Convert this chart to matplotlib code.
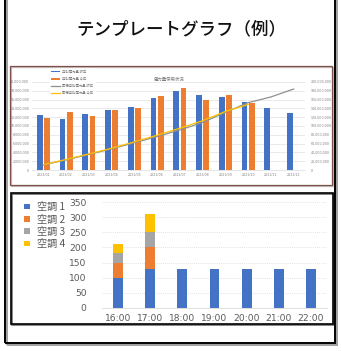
import matplotlib
matplotlib.use("Agg")
import matplotlib.pyplot as plt
from matplotlib.patches import Rectangle
import numpy as np

W, H = 341, 351
JP = ['Noto Sans CJK JP', 'DejaVu Sans']

# monthly electricity chart (top panel), values in millions of kWh
months = ['2021/01', '2021/02', '2021/03', '2021/04', '2021/05', '2021/06',
          '2021/07', '2021/08', '2021/09', '2021/10', '2021/11', '2021/12']
monthly_last = [12.4, 11.7, 12.8, 13.7, 14.4, 16.4, 18.0, 17.1, 16.6, 15.5, 14.0, 13.0]
monthly_this = [11.9, 13.2, 12.3, 13.7, 14.1, 16.8, 18.7, 15.8, 17.0, 15.2]
cumulative_last = [11.5, 23.0, 35.5, 48.0, 62.0, 76.0, 91.0, 108.0, 131.0, 153.0, 166.0, 184.0]
cumulative_this = [12.0, 24.0, 36.5, 49.5, 64.0, 79.0, 95.0, 112.0, 133.0, 149.0]
top_series = ['月別電力量 昨年', '月別電力量 今年', '累積月別電力量 昨年', '累積月別電力量 今年']

# air conditioner load by hour (bottom panel)
hours = ['16:00', '17:00', '18:00', '19:00', '20:00', '21:00', '22:00']
ac_names = ['空調 1', '空調 2', '空調 3', '空調 4']
ac1 = [100, 130, 130, 130, 130, 130, 130]
ac2 = [50, 70, 0, 0, 0, 0, 0]
ac3 = [30, 50, 0, 0, 0, 0, 0]
ac4 = [30, 60, 0, 0, 0, 0, 0]

BLUE, ORANGE, GREY, GOLD = '#4472C4', '#ED7D31', '#A5A5A5', '#FFC000'


def px_box(x0, y0, x1, y1):
    # pixel rectangle (top-left origin) -> figure fraction [l, b, w, h]
    return [x0 / W, 1 - y1 / H, (x1 - x0) / W, (y1 - y0) / H]


def frame(x0, y0, x1, y1, color, lw=1.2, shadow='#9a9a9a', off=1.6):
    l, b, w, h = px_box(x0, y0, x1, y1)
    dx, dy = off / W, off / H
    fig.add_artist(Rectangle((l + dx, b - dy), w, h, transform=fig.transFigure,
                             fill=False, ec=shadow, lw=lw, zorder=0))
    fig.add_artist(Rectangle((l, b), w, h, transform=fig.transFigure,
                             fill=False, ec=color, lw=lw, zorder=1))


fig = plt.figure(figsize=(W / 100, H / 100), dpi=100)
fig.patch.set_facecolor('white')

# outer frame and title
frame(5, -3, 335, 343, 'black', lw=1.4, shadow='#a0a0a0')
fig.text(181 / W, 1 - 29 / H, 'テンプレートグラフ（例）', family=JP,
         fontsize=12.6, weight='medium', ha='center', va='center', color='#111111')

# ---- top panel: monthly usage ----
frame(10, 66, 332, 185, '#7e504a', lw=0.9, shadow='#c8c0c0', off=1.2)
ax1 = fig.add_axes(px_box(32, 82, 305, 170))
x = np.arange(len(months))
ax1.bar(x[:len(monthly_last)] - 0.16, monthly_last, width=0.26, color=BLUE,
        label=top_series[0], zorder=2)
ax1.bar(x[:len(monthly_this)] + 0.16, monthly_this, width=0.26, color=ORANGE,
        label=top_series[1], zorder=2)
ax1.set_ylim(0, 20)
ax1.set_xlim(-0.5, len(months) - 0.5)
ax1.set_yticks(np.arange(0, 21, 2))
ax1.set_yticklabels(['0'] + [f'{v:,}' for v in range(2000000, 20000001, 2000000)])
ax1.set_xticks(x)
ax1.set_xticklabels(months)
ax1.tick_params(labelsize=2.3, length=0, pad=2, colors='#808080')
ax1.grid(axis='y', color='#e2e2e2', lw=0.5)
ax1.set_axisbelow(True)
for s in ax1.spines.values():
    s.set_visible(False)
ax1.spines['bottom'].set_visible(True)
ax1.spines['bottom'].set_color('#d9d9d9')
ax1.spines['bottom'].set_linewidth(0.5)

ax2 = ax1.twinx()
ax2.plot(x[:len(cumulative_last)], cumulative_last, color='#8f8f8f', lw=0.9,
         label=top_series[2], zorder=3)
ax2.plot(x[:len(cumulative_this)], cumulative_this, color=GOLD, lw=0.9,
         label=top_series[3], zorder=3)
ax2.set_ylim(0, 200)
ax2.set_yticks(np.arange(0, 201, 20))
ax2.set_yticklabels(['0'] + [f'{v:,}' for v in range(20000000, 200000001, 20000000)])
ax2.tick_params(labelsize=2.3, length=0, pad=4, colors='#808080')
for s in ax2.spines.values():
    s.set_visible(False)

ax1.set_title('電力量使用状況', family=JP, fontsize=3.2, color='#808080', pad=0)
ax1.title.set_position((0.5, 1.06))
h1, l1 = ax1.get_legend_handles_labels()
h2, l2 = ax2.get_legend_handles_labels()
leg = ax2.legend(h1 + h2, l1 + l2, loc='upper left', bbox_to_anchor=(0.06, 1.17),
                 prop={'family': JP, 'size': 2.4}, frameon=True, framealpha=1,
                 edgecolor='white', handlelength=2.6, handleheight=0.5,
                 labelspacing=0.9, borderpad=0.3, labelcolor='#808080')

# ---- bottom panel: air conditioner load ----
frame(11, 193, 333, 324, 'black', lw=1.2, shadow='#707070', off=1.4)
ax = fig.add_axes(px_box(102, 202.3, 327, 307.7))
xb = np.arange(len(hours))
bottom = np.zeros(len(hours))
for name, vals, col in zip(ac_names, [ac1, ac2, ac3, ac4], [BLUE, ORANGE, GREY, GOLD]):
    ax.bar(xb, vals, width=0.31, bottom=bottom, color=col, label=name, zorder=2)
    bottom += np.array(vals)
ax.set_ylim(0, 350)
ax.set_xlim(-0.5, len(hours) - 0.5)
ax.set_yticks(np.arange(0, 351, 50))
ax.set_xticks(xb)
ax.set_xticklabels(hours)
ax.tick_params(labelsize=6.6, length=0, colors='#595959')
ax.tick_params(axis='y', pad=11)
ax.tick_params(axis='x', pad=4.5)
ax.grid(axis='y', color='#d9d9d9', lw=0.6, ls=(0, (1, 1.5)))
ax.set_axisbelow(True)
for s in ax.spines.values():
    s.set_visible(False)
ax.spines['bottom'].set_visible(True)
ax.spines['bottom'].set_color('#d9d9d9')
ax.spines['bottom'].set_linewidth(0.6)

ax.legend(loc='upper left', bbox_to_anchor=(19 / W, 1 - 197 / H),
          bbox_transform=fig.transFigure, prop={'family': JP, 'size': 7.3},
          frameon=False, handlelength=0.6, handleheight=0.45, handletextpad=0.7,
          labelspacing=0.22, borderpad=0, labelcolor='#595959')

fig.savefig('out.png', dpi=100, facecolor='white')
